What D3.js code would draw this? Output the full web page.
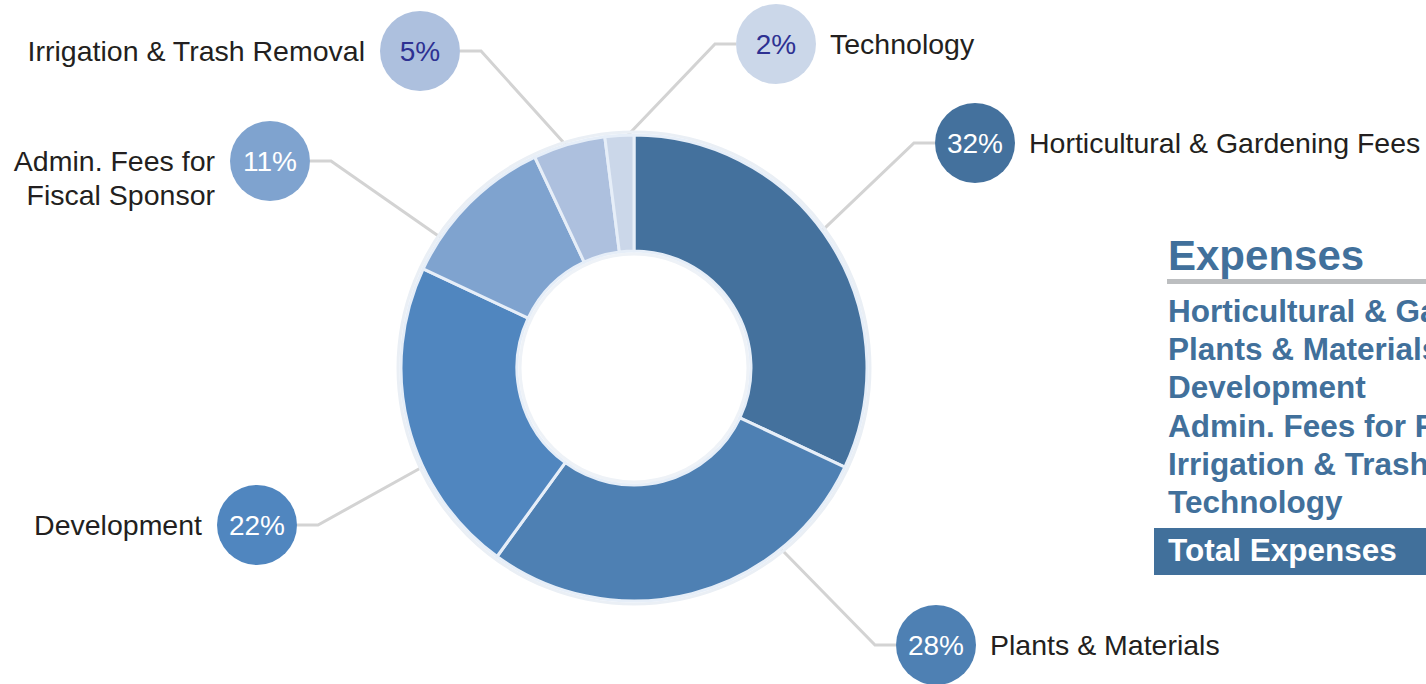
<!DOCTYPE html>
<html lang="en">
<head>
<meta charset="UTF-8">
<title>Expenses donut</title>
<style>
  html, body { margin: 0; padding: 0; background: #fff; }
  svg { display: block; font-family: "Liberation Sans", Arial, Helvetica, sans-serif; }
</style>
</head>
<body>
<svg id="chart"></svg>
<script src="https://cdn.jsdelivr.net/npm/d3@7/dist/d3.min.js"></script>
<script>
// data
const categories = ["Horticultural & Gardening Fees", "Plants & Materials", "Development",
  "Admin. Fees for Fiscal Sponsor", "Irrigation & Trash Removal", "Technology"];
const shares = [32, 28, 22, 11, 5, 2];
const sliceColors = ["#44719d", "#4e80b3", "#5086bf", "#7fa3cf", "#adc0de", "#cbd7e9"];
const tableTitle = "Expenses";
const tableRows = ["Horticultural & Gardening Fees", "Plants & Materials", "Development",
  "Admin. Fees for Fiscal Sponsor", "Irrigation & Trash Removal", "Technology"];
const tableTotal = "Total Expenses";

// label layout: bubble centre, which side the text goes, angle (deg) where the leader meets the ring
const labelLayout = [
  { x: 975, y: 143, side: "right", angle: 54, lines: ["Horticultural & Gardening Fees"] },
  { x: 936, y: 645, side: "right", angle: 141, lines: ["Plants & Materials"] },
  { x: 257, y: 525, side: "left", angle: 245, lines: ["Development"] },
  { x: 270, y: 161, side: "left", angle: 304, lines: ["Admin. Fees for", "Fiscal Sponsor"] },
  { x: 420, y: 51, side: "left", angle: 343.5, lines: ["Irrigation & Trash Removal"] },
  { x: 776, y: 44, side: "right", angle: 357.5, lines: ["Technology"] }
];
const darkText = [false, false, false, false, true, true];

const W = 1426, H = 684;
const cx = 634, cy = 368, outerR = 233, innerR = 117, bubbleR = 40;

const svg = d3.select("#chart").attr("width", W).attr("height", H);

const pie = d3.pie().sort(null).value(d => d);
const arcs = pie(shares);
const arc = d3.arc().innerRadius(innerR).outerRadius(outerR);

// leader lines (under the ring)
const lineG = svg.append("g");
labelLayout.forEach(function (l) {
  const dir = l.side === "right" ? -1 : 1;
  const edgeX = l.x + dir * bubbleR;
  const elbowX = edgeX + dir * 21;
  const a = l.angle * Math.PI / 180;
  const px = cx + (outerR - 4) * Math.sin(a);
  const py = cy - (outerR - 4) * Math.cos(a);
  lineG.append("path")
    .attr("d", d3.line()([[edgeX, l.y], [elbowX, l.y], [px, py]]))
    .attr("fill", "none")
    .attr("stroke", "#d3d3d3")
    .attr("stroke-width", 3);
});

// faint halo round the ring
const ring = svg.append("g").attr("transform", "translate(" + cx + "," + cy + ")");
ring.append("circle").attr("r", outerR + 3).attr("fill", "none").attr("stroke", "#eaeff5").attr("stroke-width", 3);
ring.append("circle").attr("r", innerR - 3).attr("fill", "none").attr("stroke", "#eef2f7").attr("stroke-width", 3);

ring.selectAll(".slice")
  .data(arcs)
  .enter().append("path")
  .attr("class", "slice")
  .attr("d", arc)
  .attr("fill", (d, i) => sliceColors[i])
  .attr("stroke", "#e6eef8")
  .attr("stroke-width", 3)
  .attr("stroke-linejoin", "round");

// bubbles and labels
const labG = svg.append("g");
labelLayout.forEach(function (l, i) {
  labG.append("circle")
    .attr("cx", l.x).attr("cy", l.y).attr("r", bubbleR)
    .attr("fill", sliceColors[i]);
  labG.append("text")
    .attr("x", l.x).attr("y", l.y + 10)
    .attr("text-anchor", "middle")
    .attr("font-size", 28)
    .attr("fill", darkText[i] ? "#2e3192" : "#ffffff")
    .text(shares[i] + "%");
  const tx = l.side === "right" ? l.x + bubbleR + 14 : l.x - bubbleR - 15;
  l.lines.forEach(function (s, k) {
    labG.append("text")
      .attr("x", tx).attr("y", l.y + 10 + k * 34)
      .attr("text-anchor", l.side === "right" ? "start" : "end")
      .attr("font-size", 28.5)
      .attr("fill", "#231f20")
      .text(s);
  });
});

// expenses table on the right (cut off by the page edge, as in the source)
const tab = svg.append("g");
tab.append("text")
  .attr("x", 1168).attr("y", 270)
  .attr("font-size", 42).attr("font-weight", "bold")
  .attr("fill", "#41709b")
  .text(tableTitle);
tab.append("rect")
  .attr("x", 1167).attr("y", 279).attr("width", W - 1167).attr("height", 5)
  .attr("fill", "#bcbec0");
tab.selectAll(".row")
  .data(tableRows)
  .enter().append("text")
  .attr("class", "row")
  .attr("x", 1168)
  .attr("y", (d, i) => 322 + i * 38.2)
  .attr("font-size", 31.5).attr("font-weight", "bold")
  .attr("fill", "#41709b")
  .text(d => d);
tab.append("rect")
  .attr("x", 1154).attr("y", 528).attr("width", W - 1154).attr("height", 47)
  .attr("fill", "#41709b");
tab.append("text")
  .attr("x", 1168).attr("y", 561)
  .attr("font-size", 31.5).attr("font-weight", "bold")
  .attr("fill", "#ffffff")
  .text(tableTotal);
</script>
</body>
</html>
